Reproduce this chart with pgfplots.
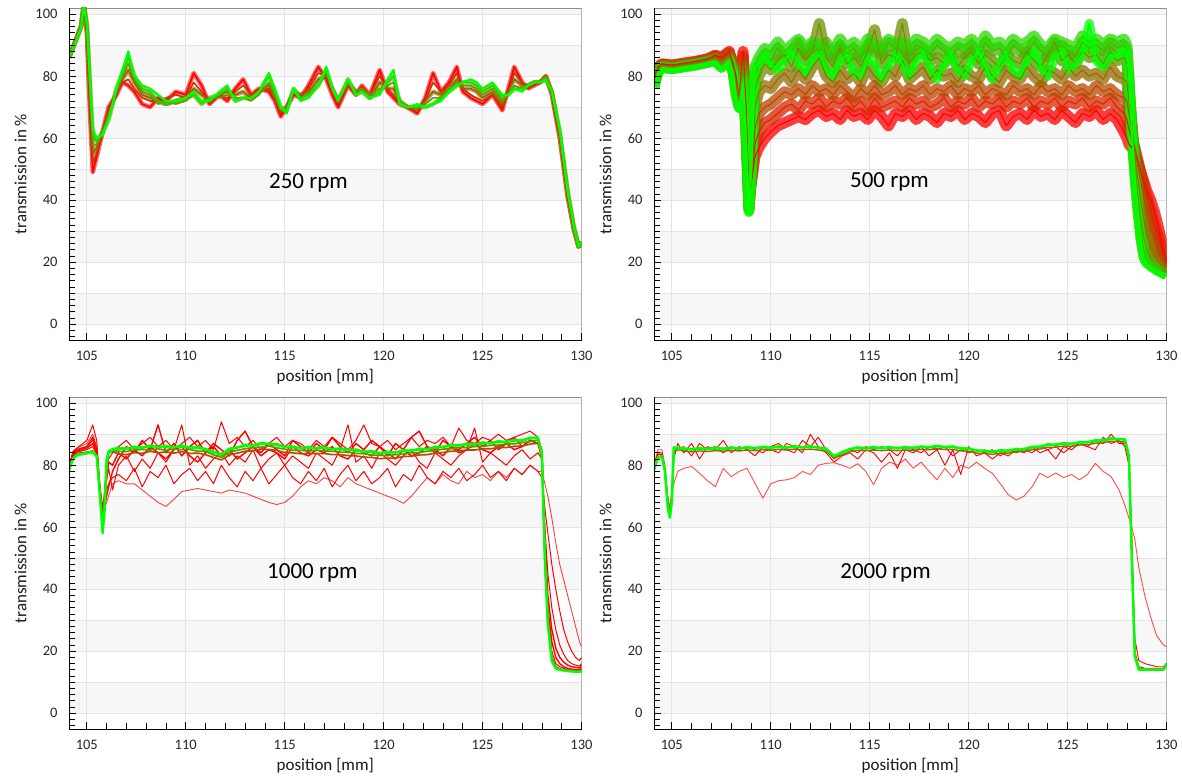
\documentclass[border=0pt]{standalone}
\usepackage{fontspec}
\setmainfont{Carlito}
\usepackage{pgfplots}
\usepackage{pgfplotstable}
\pgfplotsset{compat=1.18}
\definecolor{bandc}{HTML}{F7F7F7}
\definecolor{gridc}{HTML}{E4E4E4}

\pgfplotstableread{
x c1 c2 c3 c4 c5 c6
104.1 86 86 86 86 86 86
104.4 91 91 91 90.5 90.5 90.5
104.7 96 96 96 95.5 95.5 95.5
104.85 103 103 103 103 103 103
105.0 94 95 96 96 97 97
105.15 70 72 75 77 79 80
105.3 49 52 55 58 61 63
105.5 54 55 57 58 59 60
105.8 62 62 62 62 62 61
106.1 70 69 68 67 66 66
106.5 74 74 75 75 76 76
106.8 78 78 79 80 81 82
107.1 77 79 82 84 86 88
107.4 75 76 78 79 80 80
107.8 71 73 74 75 76 77
108.2 70 72 73 74 75 76
108.6 73 72 72 71 72 74
109.0 72 73 71 72 71 72
109.5 75 74 72 71 72 72
110.0 74 73 73 72 73 73
110.4 81 78 76 74 74 75
110.8 77 75 74 72 71 72
111.2 71 71 72 73 73 72
111.7 74 74 74 73 74 75
112.1 72 73 75 74 76 77
112.5 76 75 74 73 72 72
112.9 79 77 75 73 73 73
113.3 74 74 73 72 73 73
113.7 76 75 75 74 75 75
114.2 75 76 77 78 80 81
114.5 72 73 73 74 75 76
114.8 67 68 69 69 70 70
115.1 70 70 70 69 69 68
115.45 74 75 75 76 76 76
115.8 73 74 74 73 73 72
116.2 77 76 75 74 74 73
116.7 83 81 79 77 77 77
117.1 79 80 80 81 82 83
117.4 74 75 76 76 76 76
117.7 70 71 72 72 72 72
118.2 77 77 78 78 79 79
118.6 74 74 75 75 74 74
118.9 77 77 76 76 75 75
119.3 74 74 73 74 73 73
119.8 82 80 78 76 75 74
120.2 75 76 76 77 78 79
120.5 73 74 76 78 80 82
120.8 71 71 72 72 72 71
121.2 70 70 70 70 70 70
121.7 68 69 69 70 70 71
122.1 73 72 72 71 70 70
122.5 81 78 75 73 71 71
122.9 75 75 74 73 73 72
123.3 78 77 76 76 75 75
123.7 83 81 79 78 77 77
124.0 75 76 76 77 78 78
124.4 73 74 76 77 78 79
124.7 72 73 75 76 77 78
125.0 71 72 73 74 75 76
125.5 74 74 75 76 77 78
126.0 69 70 71 72 73 74
126.3 76 75 75 74 74 74
126.6 83 81 79 77 76 76
127.0 78 78 77 76 76 75
127.3 76 76 77 77 77 77
127.6 77 77 78 78 78 78
127.9 78 78 78 78 78 78
128.2 80 80 80 80 79 79
128.5 74 74 75 75 75 75
128.9 60 61 61 62 62 63
129.3 41 41 42 42 43 43
129.6 31 31 31 32 32 32
129.85 25 25 25 25 25 25
130.0 26.5 26.5 26.5 26.5 26.5 26.5
}\tabTL

\pgfplotstableread{
x c1 c2 c3 c4 c5 c6 c7 c8
104.1 79.5 79 78.5 78 77.5 77 76.5 76.5
104.3 83 82.5 82.5 82 82 81.5 81.5 81
104.5 84 83.8 83.6 83.4 83.2 83 82.8 82.6
105.0 83.6 83.4 83.2 83 82.8 82.6 82.4 82.2
105.6 84.2 84 83.8 83.6 83.4 83.2 83 82.8
106.2 84.8 84.6 84.4 84.2 84 83.8 83.6 83.4
106.8 85.6 85.4 85.2 85 84.8 84.6 84.4 84.2
107.2 86.8 86.5 86.2 85.9 85.6 85.3 85 84.7
107.5 86 85.5 85 84.5 84 83.5 83 82.5
107.9 88 87.5 87 86.5 86 85.5 85 85
108.1 84 83.5 83 82.5 82 81.5 81 81
108.25 80 79 78 77 76 75 74 73
108.4 73 72.5 72 71.5 71 70.5 70 69.5
108.6 88 86.5 85 83.5 82 80.5 79 78
108.75 70 68 66 64 63 62 61 60
108.9 41 40 39 38 37.5 37 36.5 36
109.05 47 48 49 50 51 52 53 54
109.2 54 58 63 70 76 80 83 83
109.4 57 62 68 75 80 84 86 84
109.7 60 65 70 77 84 87 89 87
110.0 62 66 71 76 82 85 88 84
110.35 64 68 73 79 85 89 91 82
110.7 65 70 75 81 87 86 88 85
111.05 66 71 74 78 83 88 90 88
111.4 67 69 76 82 89 91 92 84
111.75 66 72 74 79 85 87 89 81
112.1 68 71 77 83 88 90 91 85
112.45 69 73 75 86 97 88 90 87
112.8 67 70 76 80 86 91 89 82
113.15 68 72 74 78 83 86 88 80
113.5 66 71 77 82 89 90 92 85
113.85 69 73 75 79 84 87 89 87
114.2 67 70 73 81 86 89 91 81
114.55 68 72 76 78 83 86 88 80
114.9 66 69 74 83 88 90 92 86
115.25 69 73 77 80 95 88 90 84
115.6 67 70 74 78 84 87 89 79
115.95 64 71 75 82 87 91 92 83
116.3 68 72 77 80 86 89 90 87
116.65 67 70 74 85 97 88 91 84
117.0 69 73 76 79 84 86 89 80
117.35 66 71 75 81 87 90 92 85
117.7 68 72 77 83 88 89 91 88
118.05 67 70 74 79 85 87 89 83
118.4 65 71 76 82 86 90 92 79
118.75 68 73 75 80 84 88 90 84
119.1 67 70 77 81 87 86 89 87
119.45 69 72 74 78 83 89 91 82
119.8 66 71 76 82 86 87 90 80
120.15 68 73 75 80 88 90 92 85
120.5 67 70 77 79 84 86 89 88
120.85 65 72 74 83 87 91 93 83
121.2 68 71 76 80 85 88 90 79
121.55 69 73 75 78 83 89 91 84
121.9 64 70 74 82 87 86 89 87
122.25 67 72 77 80 85 90 92 82
122.6 68 71 75 79 84 88 90 80
122.95 66 73 76 83 88 87 91 85
123.3 69 70 74 80 85 91 93 88
123.65 67 72 77 78 83 88 90 83
124.0 68 71 75 82 87 86 89 80
124.35 66 73 76 81 91 89 92 86
124.7 69 70 74 79 85 90 91 88
125.05 67 72 77 83 87 88 90 82
125.4 65 71 75 80 84 86 89 84
125.75 68 73 76 82 88 91 93 87
126.1 67 70 74 80 86 89 91 97
126.45 69 72 77 81 87 90 92 85
126.8 66 71 75 79 84 88 90 83
127.15 68 73 76 83 88 91 92 87
127.5 66 70 74 80 85 89 91 86
127.85 62 68 73 79 86 90 92 89
128.0 60 66 72 78 84 88 90 88
128.1 58 63 68 72 76 78 80 80
128.25 57 60 62 64 65 63 62 62
128.4 55 57 56 54 52 50 48 47
128.55 52 53 51 47 42 39 37 36
128.7 49 49 46 40 34 30 28 27
128.85 46 45 41 34 28 24 22 21
129.0 43 41 36 29 24 21 20 19.5
129.2 40 37 31 25 21 19.5 19 18.5
129.4 36 32 27 22 19.5 18.5 18 17.8
129.6 31 28 23.5 20 18.5 17.5 17.2 17
129.8 25 23 20.5 18.5 17.5 16.8 16.6 16.5
130.0 20 19 18 17 16.5 16 16 16
}\tabTR

\pgfplotstableread{
x r1 r2 r3 r4 r5 r6 o1 o2 g1 g2
104.1 79.6 79.4 79.2 79.0 79.0 78.8 78.6 78.6 78.5 78.4
104.3 84 83.5 84.5 83 84 83 82.5 82.3 82 82
104.5 85.5 85 85.5 84.5 85 84.2 83.8 83.6 83.3 83.2
105.0 87 86 88 85.5 86 85 84.2 84 84 83.8
105.3 90 88 93 87 89 86 84.6 84.4 84.4 84.2
105.5 86 85 88 84 85 83.5 83 83 83 82.8
105.65 74 73 75 72 73 72 71 72 72 71
105.8 63 64 65 63 66 64 61 60 58 59
105.9 66 68 69 67 70 72 70 68 65 67
106.0 68 72 75 70 76 79 80 80 80 82
106.1 70 74 79 73 81 82 84 84 84 84.5
106.3 74 76 72 78 80 84 84.5 84.8 85 85.2
106.6 75 77 80 82 84 86 83.6 84.5 85.2 85.6
107.0 74 75 83 86 82 88 83.4 84.4 85.5 85.3
107.4 74 79 78 84 85 85 84.1 84.9 85.6 86.0
107.8 72 73 82 88 83 87 83.8 85.1 85.8 85.6
108.2 70 78 79 85 86 89 84.5 84.9 86.0 86.4
108.6 68 76 84 93 84 86 84.0 85.3 86.0 85.8
109.0 66.7 80 81 84 82 88 84.3 84.8 85.8 86.2
109.4 69 74 85 87 85 85 83.9 85.2 85.9 85.7
109.8 71.5 77 93 83 86 87 84.4 85.0 86.0 86.4
110.2 72 79 80 86 83 89 83.8 85.1 85.8 85.6
110.6 72.5 75 83 88 81 86 83.9 84.5 85.5 85.9
111.0 72 78 79 84 84 88 83.4 84.5 85.3 85.1
111.4 71.5 74 82 87 86 85 82.5 83.3 84.0 84.4
111.8 71 80 84 85 83 94 81.7 82.5 83.5 83.3
112.2 72 76 80 83 85 87 83.3 84.2 85.0 85.4
112.6 71.5 73 83 88 82 89 83.9 84.8 85.8 85.6
113.0 71 78 81 91 84 86 84.5 85.3 86.2 86.6
113.4 70 75 85 86 86 88 84.6 85.7 86.5 86.3
113.8 69 79 79 84 83 85 85.1 85.8 86.8 87.2
114.2 68 74 82 87 85 87 85.1 86.2 87.0 86.8
114.6 67.3 77 84 85 84 89 84.8 85.6 86.5 86.9
115.0 68 80 80 83 82 86 84.1 85.2 86.0 85.8
115.4 70 76 83 88 86 88 84.0 84.8 85.7 86.1
115.8 73 74 81 86 84 87 83.7 84.8 85.6 85.4
116.2 75 78 79 84 83 85 83.8 84.6 85.5 85.9
116.6 74 75 84 87 85 88 83.7 84.8 85.6 85.4
117.0 76 79 82 85 84 86 83.8 84.6 85.5 85.9
117.4 75 73 80 89 86 89 83.4 84.5 85.3 85.1
117.8 73 77 85 86 83 87 83.4 84.2 85.1 85.5
118.2 76 80 93 84 82 85 83.1 84.2 85.0 84.8
118.6 74 75 81 87 85 88 83.0 83.8 84.7 85.1
119.0 73 78 83 85 84 93 82.6 83.7 84.5 84.3
119.4 72 74 79 88 83 87 82.5 83.3 84.2 84.6
119.8 71 76 84 86 86 86 82.1 83.2 84.0 83.8
120.2 70 79 82 83 84 88 82.3 83.1 84.0 84.4
120.6 69 73 80 87 82 85 82.3 83.4 84.2 84.0
121.0 67.7 77 83 85 85 87 82.8 83.6 84.5 84.9
121.4 70 75 85 89 83 89 82.9 84.0 84.8 84.6
121.8 73 80 81 91 84 86 83.3 84.1 85.0 85.4
122.2 76 76 79 86 86 88 83.4 84.5 85.3 85.1
122.6 74 74 84 84 85 87 83.9 84.7 85.6 86.0
123.0 77 78 82 88 83 89 84.1 85.2 86.0 85.8
123.4 75 76 80 86 86 86 84.5 85.3 86.2 86.6
123.8 74 79 83 85 84 92 84.6 85.7 86.5 86.3
124.2 78 75 85 87 85 88 84.9 85.7 86.6 87.0
124.6 76 77 92 89 87 87 84.9 86.0 86.8 86.6
125.0 77 80 81 86 85 89 85.3 86.1 87.0 87.4
125.4 75 76 84 88 84 88 85.3 86.4 87.2 87.0
125.8 78 78 82 85 86 90 85.7 86.5 87.4 87.8
126.2 76 75 80 87 87 88 85.7 86.8 87.6 87.4
126.6 79 79 83 89 85 89 86.1 86.9 87.8 88.2
127.0 77 77 85 86 86 90 86.2 87.3 88.1 87.9
127.4 80 80 82 88 88 91 86.8 87.6 88.5 88.9
127.8 78 78 84 87 87 89 87.1 88.2 89.0 88.8
128.0 78 76 82 84 84 85 82 82.5 83 83.5
128.15 74 66 60 56 53 52 51 50.5 50 49
128.3 70 58 45 38 34 32 30 29.5 29 28.5
128.5 63 48 34 27 23 20 18 17.5 17 16.8
128.7 55 40 27 21 18 16 15 14.8 14.5 14.4
128.9 48 33 22 18 16 15 14.3 14.2 14 14
129.1 43 27 19 16.5 15 14.5 14 13.9 13.8 13.8
129.3 38 23 17 15.5 14.5 14 13.8 13.7 13.6 13.6
129.5 33 20 16 15 14.2 13.8 13.7 13.6 13.5 13.5
129.7 28 18 15.5 14.8 14 13.7 13.6 13.5 13.4 13.4
129.9 23 17 15.2 14.6 14 13.7 13.6 13.5 13.4 13.4
130.0 21.5 18 16 15.5 14.5 14 13.8 13.7 13.6 13.6
}\tabBL

\pgfplotstableread{
x r1 r2 r3 o1 g1 g2
104.1 80 80 79.5 78.8 78.5 78.5
104.3 85 84 83.5 82.8 82.5 82.6
104.5 85 84 83.5 83 82.8 82.9
104.65 80 79 79 78.5 78 78.2
104.8 70 69 68 67 66 66.5
104.9 66 65 64.5 63.5 63 63.2
105.0 72 70 69 69 68 68.5
105.1 74 82 84 85 85.5 85.8
105.3 78 87 85 85 85.3 85.6
105.6 79 84 86 84.6 85.2 85.5
106.0 79.6 87 83 84.3 85.2 85.0
106.4 77.4 82 87 84.6 85.3 85.6
106.8 75 86 85 84.4 85.3 85.1
107.2 73.1 85 86 84.7 85.4 85.7
107.6 79 88 84 84.5 85.4 85.2
108.0 76.3 84 86 84.8 85.5 85.8
108.4 78 86 85 84.6 85.5 85.3
108.8 79 85 86 84.9 85.6 85.9
109.2 74.2 83 85 84.7 85.6 85.4
109.6 69.4 86 84 85.0 85.7 86.0
110.0 74 85 86 84.8 85.7 85.5
110.4 75 84 87 85.1 85.8 86.1
110.8 75.3 87 85 84.9 85.8 85.6
111.2 76 86 84 85.2 85.9 86.2
111.6 78 84 88 85.0 85.9 85.7
112.0 77 90 86 85.2 85.9 86.2
112.4 80 86 89 84.9 85.8 85.6
112.8 80.6 84 85 84.5 85.2 85.4
113.2 80.8 81 82 82.3 83 82.8
113.6 80 83 84 83.3 84 84.3
114.0 79 84 85 84.4 85.3 85.1
114.4 80.5 82 84 84.8 85.5 85.8
114.8 78 85 86 84.7 85.6 85.4
115.2 73.7 84 85 84.9 85.6 85.9
115.6 79 81 86 84.7 85.6 85.4
116.0 81 84 85 84.9 85.6 85.9
116.4 80 79 83 84.7 85.6 85.4
116.8 82 85 86 84.9 85.6 85.9
117.2 79 84 85 84.8 85.7 85.5
117.6 81 86 84 85.1 85.8 86.1
118.0 78 83 86 85.0 85.9 85.7
118.4 75.3 85 85 85.3 86 86.3
118.8 79 80 86 85.1 86 85.8
119.2 76 85 83 85.1 85.8 86.1
119.6 80 77 85 84.6 85.5 85.3
120.0 79 86 84 84.5 85.2 85.5
120.4 81 83 85 83.9 84.8 84.6
120.8 79 84 84 83.8 84.5 84.8
121.2 77.4 82 85 83.5 84.4 84.2
121.6 74 84 83 83.9 84.6 84.9
122.0 70.5 83 85 83.9 84.8 84.6
122.4 68.8 85 84 84.3 85 85.3
122.8 70 84 85 84.4 85.3 85.1
123.2 73 86 84 85.0 85.7 86.0
123.6 77.4 84 86 85.2 86.1 85.9
124.0 76 85 85 85.8 86.5 86.8
124.4 77.5 82 86 85.8 86.7 86.5
124.8 76 86 84 86.2 86.9 87.2
125.2 77 85 86 86.1 87 86.8
125.6 75.3 87 87 86.5 87.2 87.5
126.0 77 86 86 86.6 87.5 87.3
126.4 80.6 85 88 87.1 87.8 88.1
126.8 78 89 87 87.2 88.1 87.9
127.2 76.3 87 90 87.7 88.4 88.7
127.6 72 88 87 87.6 88.5 88.3
127.9 67 86 87 87.5 88.2 88.4
128.1 63 80 82 82 82.8 83
128.25 60 55 52 51 50 49
128.4 56 24 20 19 18.5 18.3
128.6 47 17 15 14.5 14 14.2
128.9 38 16 14.5 14.2 14 14.1
129.2 31 15.5 14.5 14.1 14 14
129.5 25 15 14.5 14.1 14 14
129.85 22 15 14.5 14.1 14 14
130.0 21.5 16 16 15.8 16 16
}\tabBR

\newcommand{\bands}{%
\fill[bandc] (axis cs:104.1,0) rectangle (axis cs:130,10);
\fill[bandc] (axis cs:104.1,20) rectangle (axis cs:130,30);
\fill[bandc] (axis cs:104.1,40) rectangle (axis cs:130,50);
\fill[bandc] (axis cs:104.1,60) rectangle (axis cs:130,70);
\fill[bandc] (axis cs:104.1,80) rectangle (axis cs:130,90);
\fill[bandc] (axis cs:104.1,100) rectangle (axis cs:130,102);
\draw[gridc, line width=0.8pt] (axis cs:104.1,0) -- (axis cs:130,0);
\draw[gridc, line width=0.8pt] (axis cs:104.1,10) -- (axis cs:130,10);
\draw[gridc, line width=0.8pt] (axis cs:104.1,20) -- (axis cs:130,20);
\draw[gridc, line width=0.8pt] (axis cs:104.1,30) -- (axis cs:130,30);
\draw[gridc, line width=0.8pt] (axis cs:104.1,40) -- (axis cs:130,40);
\draw[gridc, line width=0.8pt] (axis cs:104.1,50) -- (axis cs:130,50);
\draw[gridc, line width=0.8pt] (axis cs:104.1,60) -- (axis cs:130,60);
\draw[gridc, line width=0.8pt] (axis cs:104.1,70) -- (axis cs:130,70);
\draw[gridc, line width=0.8pt] (axis cs:104.1,80) -- (axis cs:130,80);
\draw[gridc, line width=0.8pt] (axis cs:104.1,90) -- (axis cs:130,90);
\draw[gridc, line width=0.8pt] (axis cs:104.1,100) -- (axis cs:130,100);
\draw[gridc, line width=0.8pt] (axis cs:105,-5.1) -- (axis cs:105,102);
\draw[gridc, line width=0.8pt] (axis cs:110,-5.1) -- (axis cs:110,102);
\draw[gridc, line width=0.8pt] (axis cs:115,-5.1) -- (axis cs:115,102);
\draw[gridc, line width=0.8pt] (axis cs:120,-5.1) -- (axis cs:120,102);
\draw[gridc, line width=0.8pt] (axis cs:125,-5.1) -- (axis cs:125,102);
\draw[black!45, line width=0.8pt] (axis cs:104.1,102) -- (axis cs:130,102) -- (axis cs:130,-5.1);
}

\pgfplotsset{
 panel/.style={
   scale only axis, width=512.5pt, height=332pt,
   xmin=104.1, xmax=130, ymin=-5.1, ymax=102,
   no markers, axis on top,
   axis x line=bottom, axis y line=left,
   axis line style={-, black, line width=1pt},
   xtick={105,110,...,130}, ytick={0,20,...,100},
   minor x tick num=4,
   minor ytick={-4,-2,...,98},
   tick align=inside, major tick length=7pt, minor tick length=6pt,
   every tick/.style={black, line width=0.8pt},
   tick label style={font=\fontsize{14.5}{16}\selectfont, text=black!85},
   xticklabel style={yshift=-8pt},
   yticklabel style={xshift=-8pt},
   /pgf/number format/assume math mode=true,
   xlabel={position [mm]}, ylabel={transmission in \%},
   label style={font=\fontsize{17}{19}\selectfont, text=black!90},
   xlabel style={yshift=-1pt},
   ylabel style={yshift=2pt},
   every axis plot/.append style={line join=round},
 }
}

\begin{document}
\begin{tikzpicture}
\path[use as bounding box] (0pt,0pt) rectangle (1182pt,-778pt);

% 250 rpm
\begin{axis}[panel, at={(69pt,-340pt)}, anchor=south west]
\bands
\addplot[color=red, line width=4.5pt, opacity=0.6] table[x index=0,y index=1]{\tabTL};
\addplot[color=green!40!red, line width=4.5pt, opacity=0.6] table[x index=0,y index=3]{\tabTL};
\addplot[color=green!70!red, line width=4.5pt, opacity=0.6] table[x index=0,y index=5]{\tabTL};
\addplot[color=red, line width=1.6pt] table[x index=0,y index=1]{\tabTL};
\addplot[color=green!20!red, line width=1.6pt] table[x index=0,y index=2]{\tabTL};
\addplot[color=green!40!red, line width=1.6pt] table[x index=0,y index=3]{\tabTL};
\addplot[color=green!60!red, line width=1.6pt] table[x index=0,y index=4]{\tabTL};
\addplot[color=green!80!red, line width=1.6pt] table[x index=0,y index=5]{\tabTL};
\addplot[color=green, line width=2.2pt] table[x index=0,y index=6]{\tabTL};
\node[font=\fontsize{23}{26}\selectfont] at (axis cs:116.2,45.5) {250 rpm};
\end{axis}

% 500 rpm
\begin{axis}[panel, at={(654pt,-340pt)}, anchor=south west]
\bands
\addplot[color=red, line width=11pt, opacity=0.75] table[x index=0,y index=1]{\tabTR};
\addplot[color=green!14!red, line width=11pt, opacity=0.75] table[x index=0,y index=2]{\tabTR};
\addplot[color=green!28!red, line width=11pt, opacity=0.75] table[x index=0,y index=3]{\tabTR};
\addplot[color=green!42!red, line width=11pt, opacity=0.75] table[x index=0,y index=4]{\tabTR};
\addplot[color=green!56!red, line width=11pt, opacity=0.75] table[x index=0,y index=5]{\tabTR};
\addplot[color=green!70!red, line width=11pt, opacity=0.75] table[x index=0,y index=6]{\tabTR};
\addplot[color=green!85!red, line width=11pt, opacity=0.75] table[x index=0,y index=7]{\tabTR};
\addplot[color=green, line width=9pt, opacity=0.75] table[x index=0,y index=8]{\tabTR};
\addplot[color=red, line width=1.1pt] table[x index=0,y index=1]{\tabTR};
\addplot[color=green!14!red, line width=1.1pt] table[x index=0,y index=2]{\tabTR};
\addplot[color=green!28!red, line width=1.1pt] table[x index=0,y index=3]{\tabTR};
\addplot[color=green!42!red, line width=1.1pt] table[x index=0,y index=4]{\tabTR};
\addplot[color=green!56!red, line width=1.1pt] table[x index=0,y index=5]{\tabTR};
\addplot[color=green!70!red, line width=1.1pt] table[x index=0,y index=6]{\tabTR};
\addplot[color=green!85!red, line width=1.1pt] table[x index=0,y index=7]{\tabTR};
\addplot[color=green, line width=1.8pt] table[x index=0,y index=8]{\tabTR};
\node[font=\fontsize{23}{26}\selectfont] at (axis cs:116,45.8) {500 rpm};
\end{axis}

% 1000 rpm
\begin{axis}[panel, at={(69pt,-729pt)}, anchor=south west]
\bands
\addplot[color=red, opacity=0.75, line width=0.9pt] table[x index=0,y index=1]{\tabBL};
\addplot[color=red, line width=1pt] table[x index=0,y index=2]{\tabBL};
\addplot[color=red, line width=1pt] table[x index=0,y index=3]{\tabBL};
\addplot[color=red, line width=1.4pt] table[x index=0,y index=4]{\tabBL};
\addplot[color=red, line width=1.4pt] table[x index=0,y index=5]{\tabBL};
\addplot[color=red, line width=1pt] table[x index=0,y index=6]{\tabBL};
\addplot[color=green!30!red, line width=1.6pt] table[x index=0,y index=7]{\tabBL};
\addplot[color=green!55!red, line width=1.6pt] table[x index=0,y index=8]{\tabBL};
\addplot[color=green, line width=2.2pt] table[x index=0,y index=9]{\tabBL};
\addplot[color=green, line width=2.2pt] table[x index=0,y index=10]{\tabBL};
\node[font=\fontsize{23}{26}\selectfont] at (axis cs:116.4,45.3) {1000 rpm};
\end{axis}

% 2000 rpm
\begin{axis}[panel, at={(654pt,-729pt)}, anchor=south west]
\bands
\addplot[color=red, opacity=0.7, line width=0.9pt] table[x index=0,y index=1]{\tabBR};
\addplot[color=red, line width=0.9pt] table[x index=0,y index=2]{\tabBR};
\addplot[color=red, line width=0.9pt] table[x index=0,y index=3]{\tabBR};
\addplot[color=green!40!red, line width=1.4pt] table[x index=0,y index=4]{\tabBR};
\addplot[color=green, line width=2.2pt] table[x index=0,y index=5]{\tabBR};
\addplot[color=green, line width=2.2pt] table[x index=0,y index=6]{\tabBR};
\node[font=\fontsize{23}{26}\selectfont] at (axis cs:115.8,45.3) {2000 rpm};
\end{axis}
\end{tikzpicture}
\end{document}
